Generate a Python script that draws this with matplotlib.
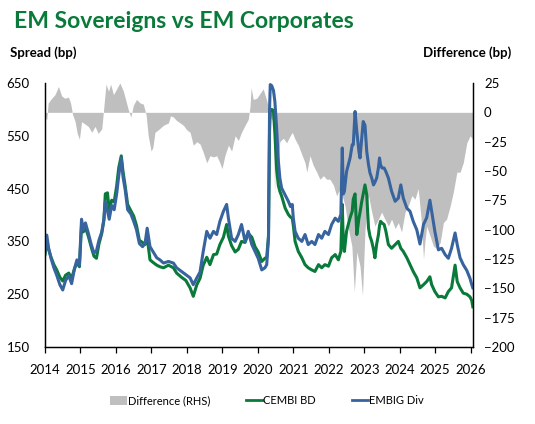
import matplotlib
matplotlib.use("Agg")
import matplotlib.pyplot as plt
from matplotlib.patches import Patch
from matplotlib.lines import Line2D

plt.rcParams['font.family'] = ['Lato', 'DejaVu Sans']

# ---- data (fractional years) ----
line_t = [2014.00, 2014.05, 2014.10, 2014.17, 2014.25, 2014.33, 2014.42, 2014.50, 2014.58, 2014.67,
          2014.75, 2014.83, 2014.90, 2014.97, 2015.03, 2015.08, 2015.14, 2015.22, 2015.30, 2015.38,
          2015.45, 2015.52, 2015.60, 2015.66, 2015.70, 2015.76, 2015.81, 2015.88, 2015.95, 2016.02,
          2016.08, 2016.15, 2016.20, 2016.26, 2016.33, 2016.42, 2016.50, 2016.58, 2016.66, 2016.75,
          2016.82, 2016.88, 2016.96, 2017.05, 2017.15, 2017.24, 2017.34, 2017.48, 2017.62, 2017.71,
          2017.85, 2017.97, 2018.09, 2018.18, 2018.28, 2018.37, 2018.46, 2018.56, 2018.65, 2018.75,
          2018.84, 2018.93, 2019.03, 2019.12, 2019.17, 2019.26, 2019.36, 2019.45, 2019.54, 2019.64,
          2019.73, 2019.83, 2019.92, 2020.01, 2020.11, 2020.20, 2020.25, 2020.30, 2020.33, 2020.35,
          2020.39, 2020.44, 2020.48, 2020.53, 2020.58, 2020.62, 2020.67, 2020.77, 2020.86, 2020.92,
          2020.97, 2021.00, 2021.05, 2021.14, 2021.24, 2021.33, 2021.42, 2021.52, 2021.61, 2021.71,
          2021.80, 2021.89, 2021.99, 2022.08, 2022.18, 2022.27, 2022.34, 2022.38, 2022.41, 2022.44,
          2022.50, 2022.60, 2022.66, 2022.69, 2022.74, 2022.79, 2022.85, 2022.88, 2022.93, 2022.97,
          2023.02, 2023.07, 2023.12, 2023.16, 2023.21, 2023.26, 2023.30, 2023.35, 2023.40, 2023.43,
          2023.46, 2023.50, 2023.56, 2023.61, 2023.68, 2023.77, 2023.87, 2023.96, 2024.03, 2024.10,
          2024.20, 2024.29, 2024.38, 2024.48, 2024.57, 2024.67, 2024.76, 2024.85, 2024.90, 2024.99,
          2025.09, 2025.18, 2025.28, 2025.37, 2025.46, 2025.56, 2025.62, 2025.70, 2025.79, 2025.89,
          2025.98, 2026.03, 2026.06]

embig_div = [330, 362, 338, 318, 300, 286, 268, 258, 276, 285,
             270, 298, 315, 305, 392, 372, 385, 366, 345, 328,
             332, 352, 368, 392, 425, 408, 392, 418, 410, 440,
             475, 508, 472, 448, 410, 402, 388, 372, 346, 340,
             346, 375, 340, 330, 319, 315, 309, 312, 309, 300,
             293, 287, 281, 268, 281, 292, 331, 369, 356, 369,
             363, 388, 407, 420, 394, 356, 350, 363, 382, 350,
             369, 344, 331, 318, 296, 300, 306, 356, 600, 647,
             645, 636, 615, 564, 501, 470, 451, 438, 426, 416,
             420, 394, 369, 356, 350, 363, 344, 350, 344, 363,
             356, 369, 363, 382, 394, 388, 401, 527, 440, 445,
             482, 508, 533, 533, 596, 558, 520, 508, 546, 577,
             570, 520, 495, 480, 470, 457, 462, 470, 490, 508,
             495, 489, 489, 482, 470, 445, 426, 432, 457, 432,
             413, 407, 388, 372, 345, 382, 395, 428, 407, 369,
             334, 337, 325, 318, 337, 366, 344, 319, 306, 295,
             280, 268, 262]

cembi_bd = [325, 352, 335, 320, 306, 296, 282, 275, 286, 290,
            280, 298, 310, 302, 380, 368, 376, 360, 340, 322,
            318, 345, 365, 390, 440, 442, 410, 428, 425, 455,
            490, 512, 482, 455, 420, 408, 398, 380, 352, 348,
            344, 358, 315, 310, 305, 302, 300, 305, 300, 290,
            282, 276, 262, 246, 268, 280, 305, 320, 306, 325,
            326, 344, 358, 382, 360, 342, 330, 335, 350, 348,
            365, 358, 340, 330, 312, 318, 320, 360, 560, 595,
            600, 598, 555, 486, 455, 445, 436, 413, 401, 396,
            394, 380, 350, 331, 319, 306, 300, 296, 293, 306,
            300, 306, 303, 319, 325, 315, 331, 420, 345, 331,
            369, 395, 407, 430, 440, 363, 394, 405, 426, 440,
            457, 438, 375, 360, 350, 335, 319, 345, 363, 380,
            388, 385, 382, 369, 344, 337, 344, 350, 337, 331,
            319, 306, 293, 281, 262, 268, 274, 283, 268, 255,
            245, 246, 243, 255, 262, 305, 274, 262, 252, 250,
            245, 238, 226]

diff_t = [2014.00, 2014.05, 2014.09, 2014.19, 2014.28, 2014.38, 2014.47, 2014.56, 2014.66, 2014.72,
          2014.78, 2014.85, 2014.91, 2014.97, 2015.03, 2015.13, 2015.22, 2015.32, 2015.41, 2015.50,
          2015.60, 2015.66, 2015.72, 2015.79, 2015.85, 2015.93, 2016.02, 2016.11, 2016.21, 2016.28,
          2016.35, 2016.42, 2016.49, 2016.58, 2016.68, 2016.77, 2016.85, 2016.91, 2016.99, 2017.04,
          2017.10, 2017.19, 2017.34, 2017.48, 2017.54, 2017.62, 2017.71, 2017.81, 2017.90, 2018.00,
          2018.09, 2018.18, 2018.28, 2018.37, 2018.46, 2018.56, 2018.65, 2018.75, 2018.84, 2018.93,
          2018.99, 2019.07, 2019.17, 2019.26, 2019.36, 2019.45, 2019.54, 2019.64, 2019.73, 2019.78,
          2019.81, 2019.87, 2019.97, 2020.06, 2020.15, 2020.25, 2020.31, 2020.37, 2020.44, 2020.47,
          2020.50, 2020.56, 2020.62, 2020.72, 2020.81, 2020.91, 2020.97, 2021.05, 2021.14, 2021.24,
          2021.33, 2021.38, 2021.47, 2021.56, 2021.66, 2021.75, 2021.85, 2021.94, 2022.03, 2022.13,
          2022.22, 2022.32, 2022.38, 2022.46, 2022.55, 2022.65, 2022.72, 2022.79, 2022.88, 2022.95,
          2023.02, 2023.07, 2023.12, 2023.21, 2023.30, 2023.40, 2023.49, 2023.58, 2023.68, 2023.77,
          2023.87, 2023.96, 2024.05, 2024.15, 2024.24, 2024.34, 2024.43, 2024.52, 2024.60, 2024.67,
          2024.71, 2024.76, 2024.85, 2024.95, 2025.04, 2025.14, 2025.23, 2025.32, 2025.42, 2025.51,
          2025.61, 2025.70, 2025.79, 2025.89, 2025.98, 2026.04, 2026.06]

difference = [-5, -6, 8, 12, 15, 22, 14, 12, 13, 8,
              -2, -8, -18, -23, -8, -10, -12, -17, -12, -18,
              -14, 5, 24, 18, 24, 15, 20, 25, 18, 10,
              2, -4, 6, 11, 8, 7, -2, -20, -33, -30,
              -17, -15, -11, -9, -3, -4, -7, -9, -11, -15,
              -17, -28, -25, -27, -34, -43, -37, -38, -37, -43,
              -48, -37, -28, -33, -20, -24, -17, -11, -6, 5,
              21, 11, 12, 16, 20, 10, 3, -5, -8, -70,
              -35, -45, -25, -22, -26, -20, -17, -23, -28, -36,
              -43, -51, -37, -45, -51, -57, -54, -57, -57, -62,
              -71, -65, -71, -80, -99, -114, -153, -119, -131, -156,
              -100, -85, -71, -85, -97, -91, -85, -91, -97, -91,
              -99, -94, -102, -85, -80, -71, -74, -65, -90, -125,
              -110, -97, -105, -114, -116, -111, -94, -91, -80, -68,
              -51, -51, -43, -26, -20, -22, -25]

year_ticks = list(range(2014, 2027))
left_ticks = [150, 250, 350, 450, 550, 650]
right_ticks = [25, 0, -25, -50, -75, -100, -125, -150, -175, -200]

GREEN = '#0A7A3A'
BLUE = '#37649E'
GREY = '#BFBFBF'

fig = plt.figure(figsize=(5.35, 4.24), dpi=100)
ax1 = fig.add_axes([45/535, 1-347/424, (473-45)/535, (347-83)/424])
ax2 = ax1.twinx()

ax2.fill_between(diff_t, difference, 0, color=GREY, linewidth=0)
ax1.plot(line_t, cembi_bd, color=GREEN, lw=2.2, solid_joinstyle='round')
ax1.plot(line_t, embig_div, color=BLUE, lw=2.2, solid_joinstyle='round')

ax1.set_zorder(ax2.get_zorder() + 1)
ax1.patch.set_visible(False)

ax1.set_xlim(2014.0, 2026.065)
ax1.set_ylim(150, 650)
ax2.set_ylim(-200, 25)
ax1.set_xticks(year_ticks)
ax1.set_xticklabels([str(y) for y in year_ticks])
ax1.set_yticks(left_ticks)
ax2.set_yticks(right_ticks)

for ax in (ax1, ax2):
    ax.spines['top'].set_visible(False)
    for sp in ax.spines.values():
        sp.set_color('black')
        sp.set_linewidth(0.9)

ax1.tick_params(axis='x', length=4, width=0.9, direction='out', pad=8, labelsize=9.5, colors='black')
ax1.tick_params(axis='y', length=0, pad=11, labelsize=9.5)
ax2.tick_params(axis='y', length=0, pad=8, labelsize=9.5)

fig.text(14/535, 1-21/424, 'EM Sovereigns vs EM Corporates', color=GREEN, fontsize=16.5,
         fontweight='bold', va='center', ha='left')
fig.text(10/535, 1-53/424, 'Spread (bp)', fontsize=9.5, fontweight='bold', va='center', ha='left')
fig.text(511/535, 1-53/424, 'Difference (bp)', fontsize=9.5, fontweight='bold', va='center', ha='right')

handles = [Patch(facecolor=GREY, edgecolor='none'),
           Line2D([0], [0], color=GREEN, lw=2),
           Line2D([0], [0], color=BLUE, lw=2)]
labels = ['Difference (RHS)', 'CEMBI BD', 'EMBIG Div']
fig.legend(handles, labels, loc='center', bbox_to_anchor=(267/535, 1-401/424), ncol=3,
           frameon=False, fontsize=8, handlelength=1.5, handletextpad=0.1, columnspacing=3.2,
           handleheight=0.8)

fig.savefig('out.png', dpi=100)
